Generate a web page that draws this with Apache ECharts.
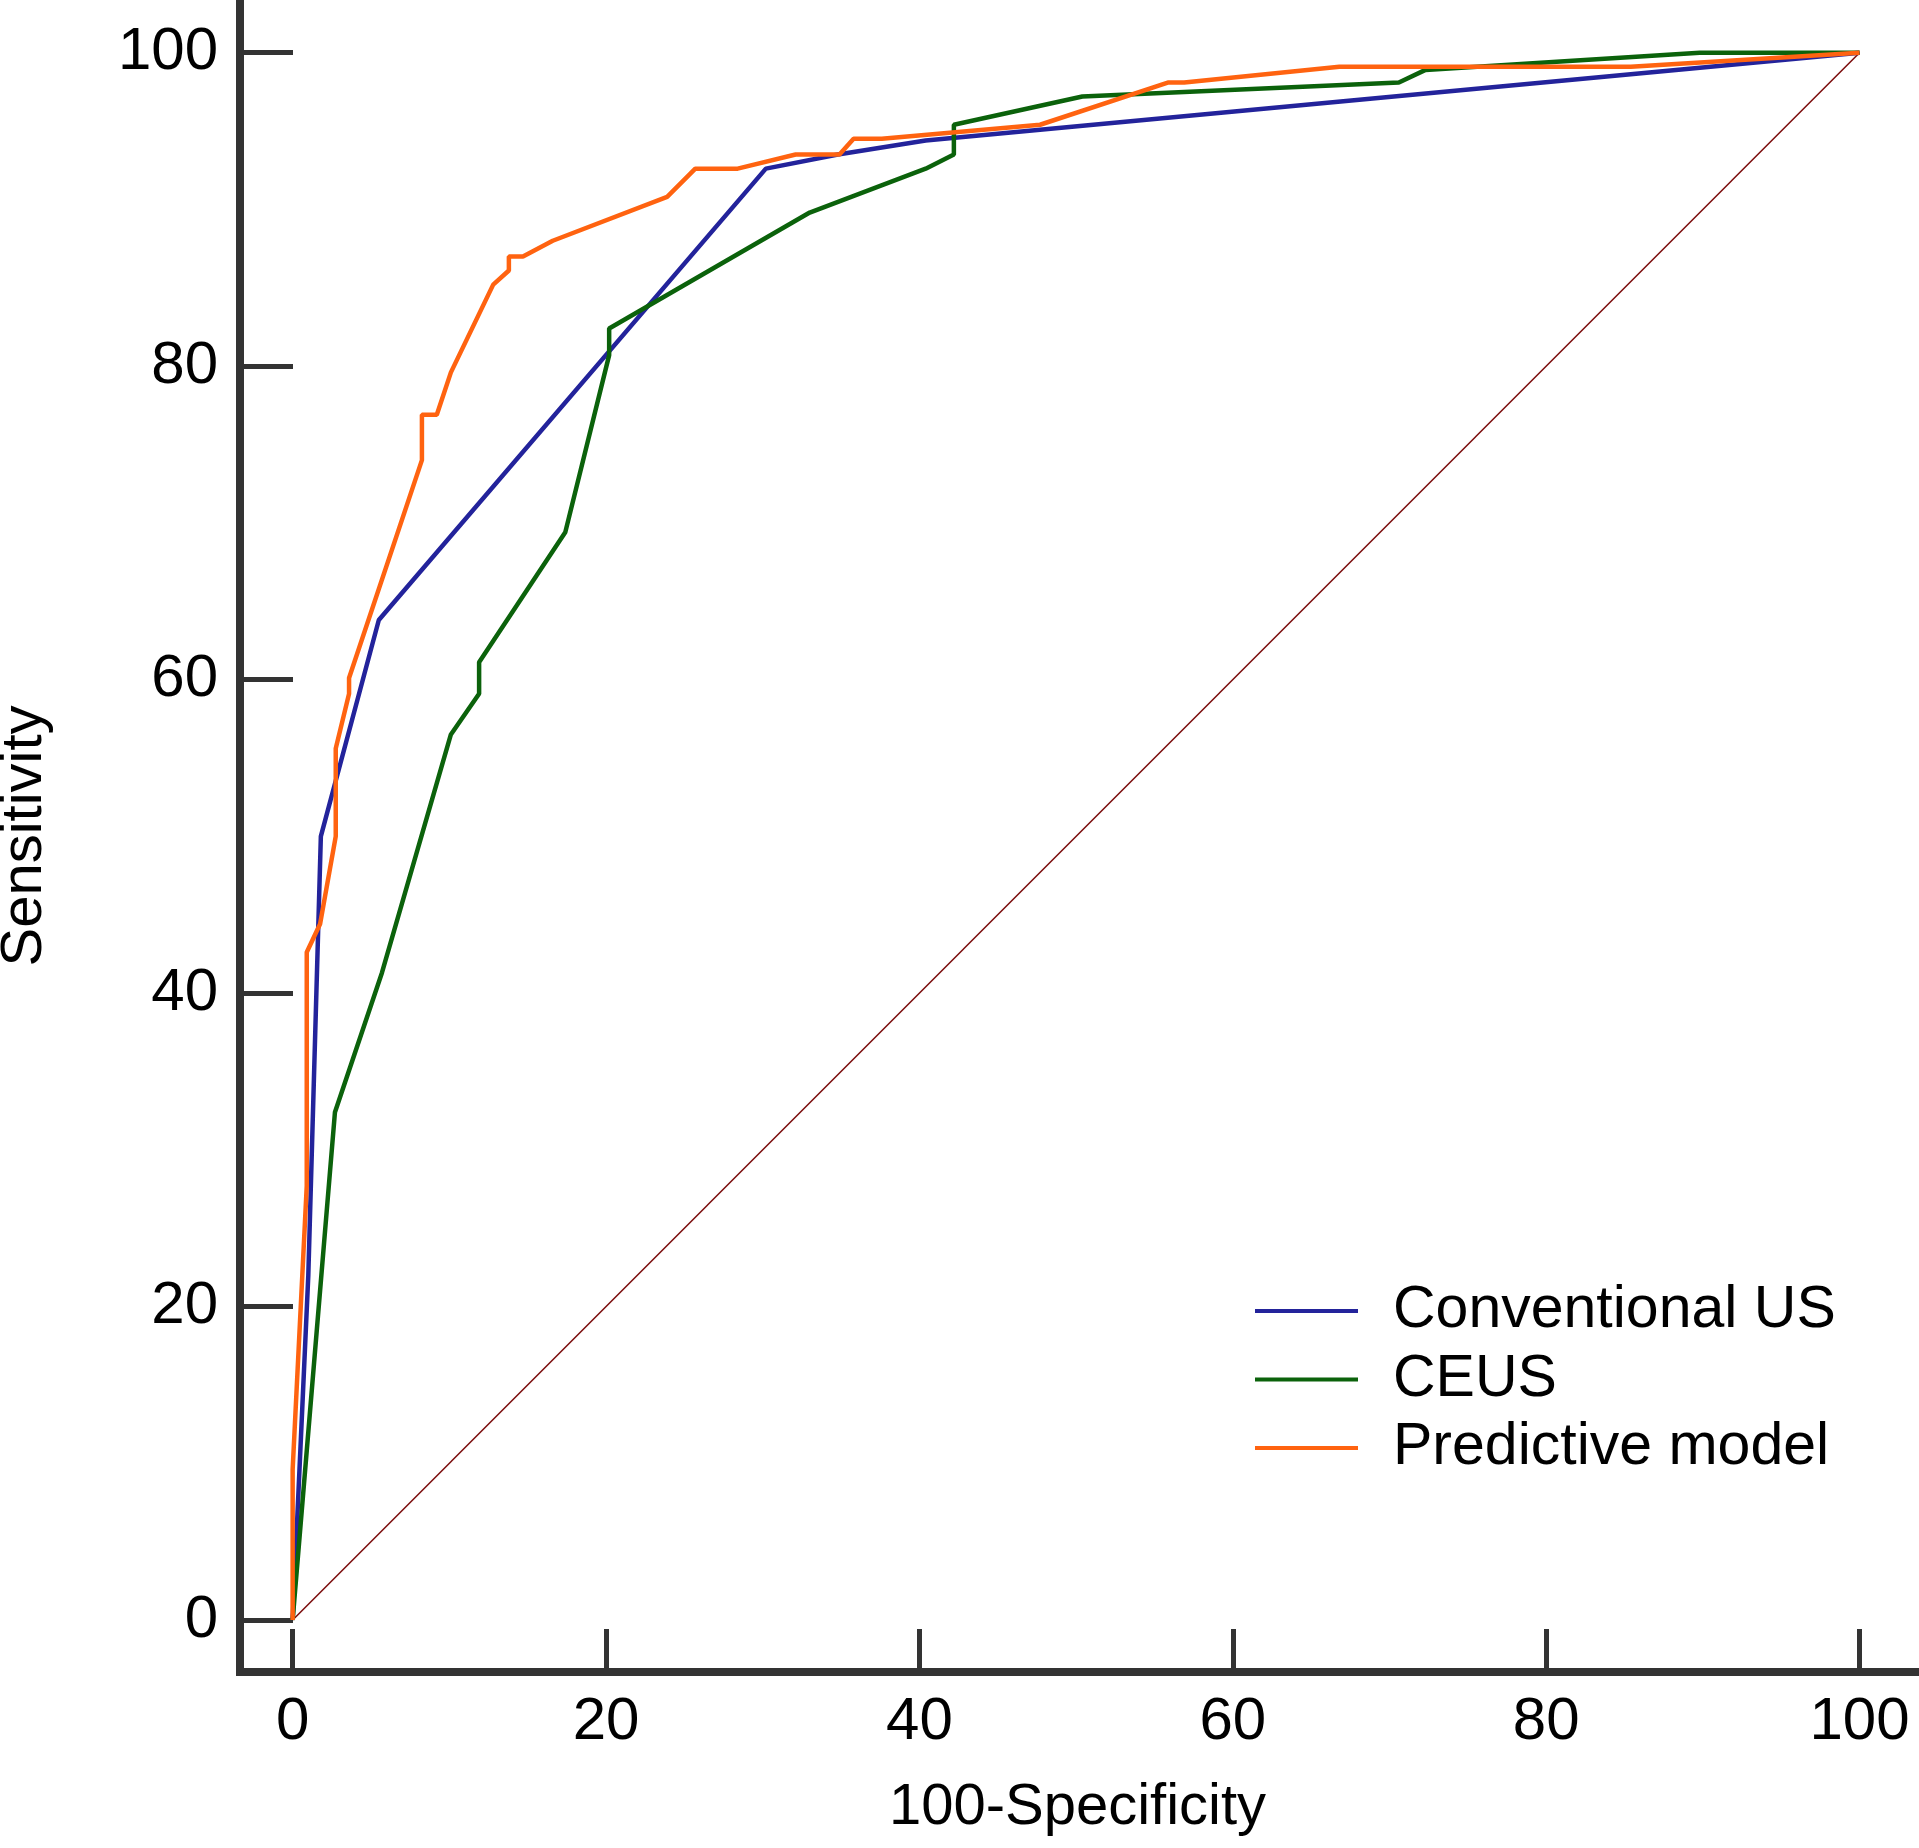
<!DOCTYPE html>
<html>
<head>
<meta charset="utf-8">
<title>ROC curves</title>
<script src="https://cdn.jsdelivr.net/npm/echarts@6.0.0/dist/echarts.min.js"></script>
<style>
  html, body { margin: 0; padding: 0; background: #ffffff; }
  #main { width: 1919px; height: 1848px; }
</style>
</head>
<body>
<div id="main"></div>
<script>
// values (100-Specificity, Sensitivity)
var tickValues = [0, 20, 40, 60, 80, 100];
var seriesNames = ['Conventional US', 'CEUS', 'Predictive model'];

var usX = [0, 1.0, 1.8, 5.5, 30.2, 34.8, 40.4, 100];
var usY = [0, 22, 50, 63.8, 92.6, 93.5, 94.4, 100];

var ceusX = [0, 2.7, 5.7, 10.1, 11.9, 11.9, 17.4, 20.2, 20.2, 33.0, 40.4, 42.2, 42.2, 50.4, 70.6, 72.3, 89.8, 100];
var ceusY = [0, 32.4, 41.3, 56.5, 59.1, 61.1, 69.4, 80.7, 82.4, 89.8, 92.6, 93.5, 95.4, 97.2, 98.1, 98.9, 100, 100];

var modelX = [0, 0, 0.9, 0.9, 1.75, 2.75, 2.75, 3.6, 3.6, 8.25, 8.25, 9.2, 10.1, 12.8, 13.8, 13.8, 14.7, 16.6,
              23.9, 25.7, 28.4, 32.1, 34.9, 35.8, 37.6, 47.7, 55.9, 56.9, 66.8, 76.9, 85.4, 100];
var modelY = [0, 9.6, 27.7, 42.6, 44.4, 50, 55.6, 59.1, 60.1, 74.0, 76.9, 76.9, 79.6, 85.2, 86.1, 87.0, 87.0, 88.0,
              90.8, 92.6, 92.6, 93.5, 93.5, 94.5, 94.5, 95.4, 98.1, 98.1, 99.1, 99.1, 99.1, 100];

var refX = [0, 100];
var refY = [0, 100];

function pairs(xs, ys) {
    return xs.map(function (x, i) { return [x, ys[i]]; });
}

var font = 'Liberation Sans, Arial, Helvetica, sans-serif';
var axisColor = '#333333';

var chart = echarts.init(document.getElementById('main'));

var option = {
    backgroundColor: '#ffffff',
    animation: false,
    textStyle: { fontFamily: font },
    grid: {
        left: 240, right: 4, top: 0, bottom: 176,
        containLabel: false,
        outerBoundsMode: 'none'
    },
    legend: {
        data: seriesNames,
        orient: 'vertical',
        left: 1255,
        top: 1281,
        padding: 0,
        icon: 'rect',
        itemWidth: 103,
        itemHeight: 4,
        itemGap: 8.5,
        textStyle: { fontSize: 59, lineHeight: 60, color: '#000000', padding: [0, 0, 0, 30] },
        selectedMode: false
    },
    xAxis: {
        type: 'value',
        min: -3.36,
        max: 103.54,
        name: '100-Specificity',
        nameLocation: 'middle',
        nameGap: 107,
        nameMoveOverlap: false,
        nameTextStyle: { fontSize: 58, lineHeight: 58, color: '#000000' },
        axisLine: { show: true, onZero: false, lineStyle: { color: axisColor, width: 8, cap: 'square' } },
        axisTick: { show: true, inside: true, length: 43, customValues: tickValues, lineStyle: { color: axisColor, width: 5 } },
        axisLabel: { customValues: tickValues, fontSize: 60, lineHeight: 60, margin: 20, color: '#000000' },
        splitLine: { show: false }
    },
    yAxis: {
        type: 'value',
        min: -3.32,
        max: 103.36,
        name: 'Sensitivity',
        nameLocation: 'middle',
        nameGap: 186,
        nameMoveOverlap: false,
        nameTextStyle: { fontSize: 58, lineHeight: 58, color: '#000000' },
        axisLine: { show: true, onZero: false, lineStyle: { color: axisColor, width: 8, cap: 'square' } },
        axisTick: { show: true, inside: true, length: 53, customValues: tickValues, lineStyle: { color: axisColor, width: 5 } },
        axisLabel: { customValues: tickValues, fontSize: 60, lineHeight: 60, margin: 22, color: '#000000' },
        splitLine: { show: false }
    },
    series: [
        {
            name: 'Reference',
            type: 'line',
            data: pairs(refX, refY),
            symbol: 'none',
            silent: true,
            lineStyle: { color: '#7a0a0a', width: 1.5 },
            z: 1
        },
        {
            name: 'Conventional US',
            type: 'line',
            data: pairs(usX, usY),
            symbol: 'none',
            color: '#23239b',
            lineStyle: { color: '#23239b', width: 4.5 },
            z: 2
        },
        {
            name: 'CEUS',
            type: 'line',
            data: pairs(ceusX, ceusY),
            symbol: 'none',
            color: '#0b620b',
            lineStyle: { color: '#0b620b', width: 4.5 },
            z: 3
        },
        {
            name: 'Predictive model',
            type: 'line',
            data: pairs(modelX, modelY),
            symbol: 'none',
            color: '#ff6310',
            lineStyle: { color: '#ff6310', width: 4.5 },
            z: 4
        }
    ]
};

chart.setOption(option);
</script>
</body>
</html>
